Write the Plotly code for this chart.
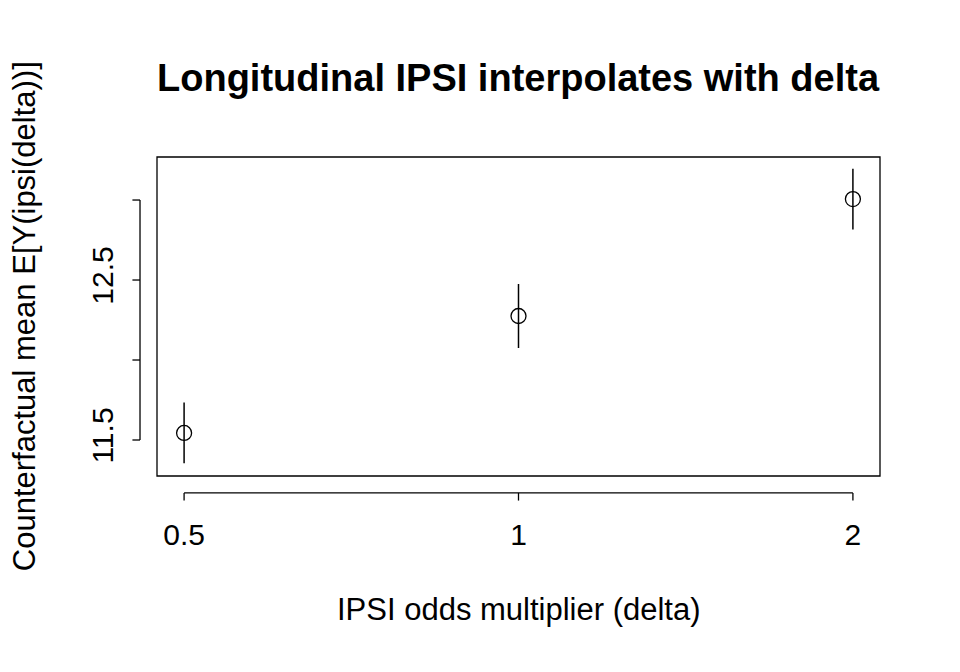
import plotly.graph_objects as go

x_labels = ["0.5", "1", "2"]
x_pos = [1, 2, 3]
means = [11.544, 12.275, 13.006]
err = [0.19, 0.20, 0.19]
y_ticks = [11.5, 12.0, 12.5, 13.0]
y_tick_labels = ["11.5", "", "12.5", ""]

fig = go.Figure(go.Scatter(
    x=x_pos, y=means, mode="markers",
    marker=dict(symbol="circle-open", size=15, color="black", line=dict(width=1.3)),
    error_y=dict(type="data", array=err, width=0, thickness=1.5, color="black"),
))

shapes = [dict(type="rect", xref="paper", yref="paper", x0=0, x1=1, y0=0, y1=1,
               line=dict(color="black", width=1.3))]
shapes.append(dict(type="line", xref="x", yref="paper", x0=x_pos[0], x1=x_pos[-1],
                   y0=-0.053, y1=-0.053, line=dict(color="black", width=1.3)))
for xp in x_pos:
    shapes.append(dict(type="line", xref="x", yref="paper", x0=xp, x1=xp,
                       y0=-0.053, y1=-0.077, line=dict(color="black", width=1.3)))
shapes.append(dict(type="line", xref="paper", yref="y", x0=-0.0235, x1=-0.0235,
                   y0=y_ticks[0], y1=y_ticks[-1], line=dict(color="black", width=1.3)))
for yt in y_ticks:
    shapes.append(dict(type="line", xref="paper", yref="y", x0=-0.0235, x1=-0.034,
                       y0=yt, y1=yt, line=dict(color="black", width=1.3)))

fig.update_layout(
    width=960, height=672, paper_bgcolor="white", plot_bgcolor="white",
    margin=dict(l=149, r=88, t=149, b=204),
    showlegend=False,
    font=dict(family="Liberation Sans, Arial, sans-serif", size=30, color="black"),
    shapes=shapes,
    xaxis=dict(range=[0.919, 3.081], tickvals=x_pos, ticktext=x_labels,
               showgrid=False, zeroline=False, showline=False, ticks="",
               ticklabelstandoff=38),
    yaxis=dict(range=[11.275, 13.269], tickvals=y_ticks, ticktext=y_tick_labels,
               tickangle=-90, showgrid=False, zeroline=False, showline=False, ticks="",
               ticklabelstandoff=37),
    annotations=[
        dict(text="<b>Longitudinal IPSI interpolates with delta</b>", xref="paper", yref="paper",
             x=0.5, y=(476 - 78) / 319, yanchor="middle", showarrow=False, font=dict(size=38)),
        dict(text="IPSI odds multiplier (delta)", xref="paper", yref="paper",
             x=0.5, y=-0.42, yanchor="middle", showarrow=False, font=dict(size=31)),
        dict(text="Counterfactual mean E[Y(ipsi(delta))]", xref="paper", yref="paper",
             x=-0.183, y=0.5, textangle=-90, xanchor="center", yanchor="middle",
             showarrow=False, font=dict(size=31)),
    ],
)
fig.write_html("out.html")
